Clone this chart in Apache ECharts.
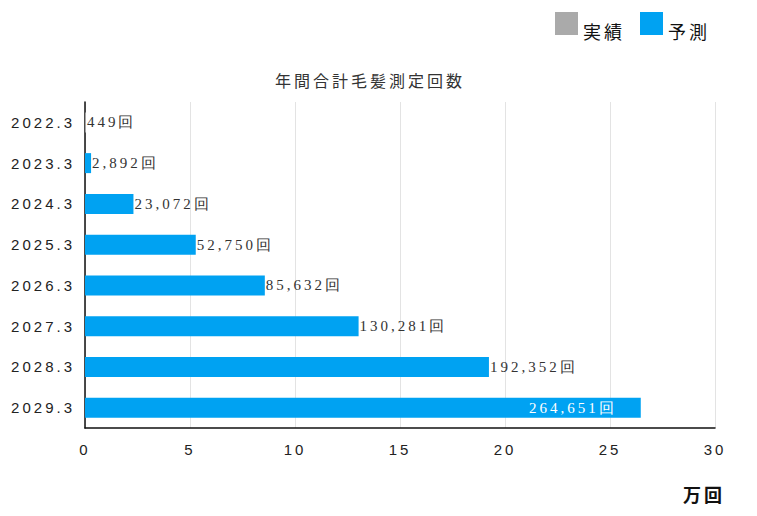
<!DOCTYPE html>
<html><head><meta charset="utf-8">
<script src="https://cdn.jsdelivr.net/npm/echarts@6/dist/echarts.min.js"></script>
<style>
html,body{margin:0;padding:0;background:#fff;}
#chart{width:757px;height:516px;letter-spacing:3px;}
</style></head>
<body><div id="chart"></div>
<script>
const categories = ['2022.3','2023.3','2024.3','2025.3','2026.3','2027.3','2028.3','2029.3'];
const actualCounts = [449, null, null, null, null, null, null, null];
const forecastCounts = [null, 2892, 23072, 52750, 85632, 130281, 192352, 264651];
const xTicks = [0, 5, 10, 15, 20, 25, 30];
const UNIT = 10000;

const toMan = v => v == null ? null : v / UNIT;
const fmt = p => {
  const raw = p.seriesIndex === 0 ? actualCounts[p.dataIndex] : forecastCounts[p.dataIndex];
  return raw.toLocaleString('en-US') + '回';
};
const labelFont = {fontFamily:'Liberation Serif', fontSize:15, color:'#333'};

const forecastData = forecastCounts.map((v, i) => {
  if (v == null) return null;
  if (i === forecastCounts.length - 1) {
    return {value: toMan(v), label: {position:'insideRight', distance: 24, color:'#fff'}};
  }
  return toMan(v);
});

const chart = echarts.init(document.getElementById('chart'), null, {renderer:'svg'});
chart.setOption({
  animation:false,
  title:[
    {text:'年間合計毛髪測定回数', left:270, top:67, textStyle:{fontFamily:'Noto Sans CJK JP', fontSize:16, fontWeight:'normal', color:'#333'}},
    {text:'万回', left:678, top:480, textStyle:{fontFamily:'Noto Sans CJK JP', fontSize:18, fontWeight:'bold', color:'#111'}}
  ],
  legend:{
    left:550, top:7, itemWidth:23, itemHeight:23, itemGap:21, icon:'rect',
    data:['実績','予測'],
    formatter: name => '{t|' + name + '}',
    textStyle:{fontFamily:'Noto Sans CJK JP', fontSize:18, color:'#111',
      rich:{t:{fontFamily:'Noto Sans CJK JP', fontSize:18, color:'#111', padding:[14,0,0,0]}}}
  },
  grid:{left:85, right:42, top:102, bottom:88, containLabel:false},
  xAxis:{
    type:'value', min:0, max:30, interval:5,
    axisLine:{show:true, lineStyle:{color:'#111', width:1.5}},
    axisTick:{show:false},
    splitLine:{show:true, lineStyle:{color:'#e3e3e3'}},
    axisLabel:{margin:14, fontFamily:'Liberation Sans', fontSize:15, color:'#222',
      formatter: v => xTicks.includes(v) ? String(v) : ''}
  },
  yAxis:{
    type:'category', data:categories, inverse:true,
    axisLine:{show:true, lineStyle:{color:'#111', width:1.5}},
    axisTick:{show:false},
    axisLabel:{margin:10, fontFamily:'Liberation Sans', fontSize:15, color:'#222'}
  },
  series:[
    {name:'実績', type:'bar', barWidth:20, barGap:'-100%', itemStyle:{color:'#aaaaaa'},
     data: actualCounts.map(toMan),
     label:Object.assign({show:true, position:'right', distance:1, formatter:fmt}, labelFont)},
    {name:'予測', type:'bar', barWidth:20, barGap:'-100%', itemStyle:{color:'#00a2f2'},
     data: forecastData,
     label:Object.assign({show:true, position:'right', distance:1, formatter:fmt}, labelFont)}
  ]
});
</script></body></html>
